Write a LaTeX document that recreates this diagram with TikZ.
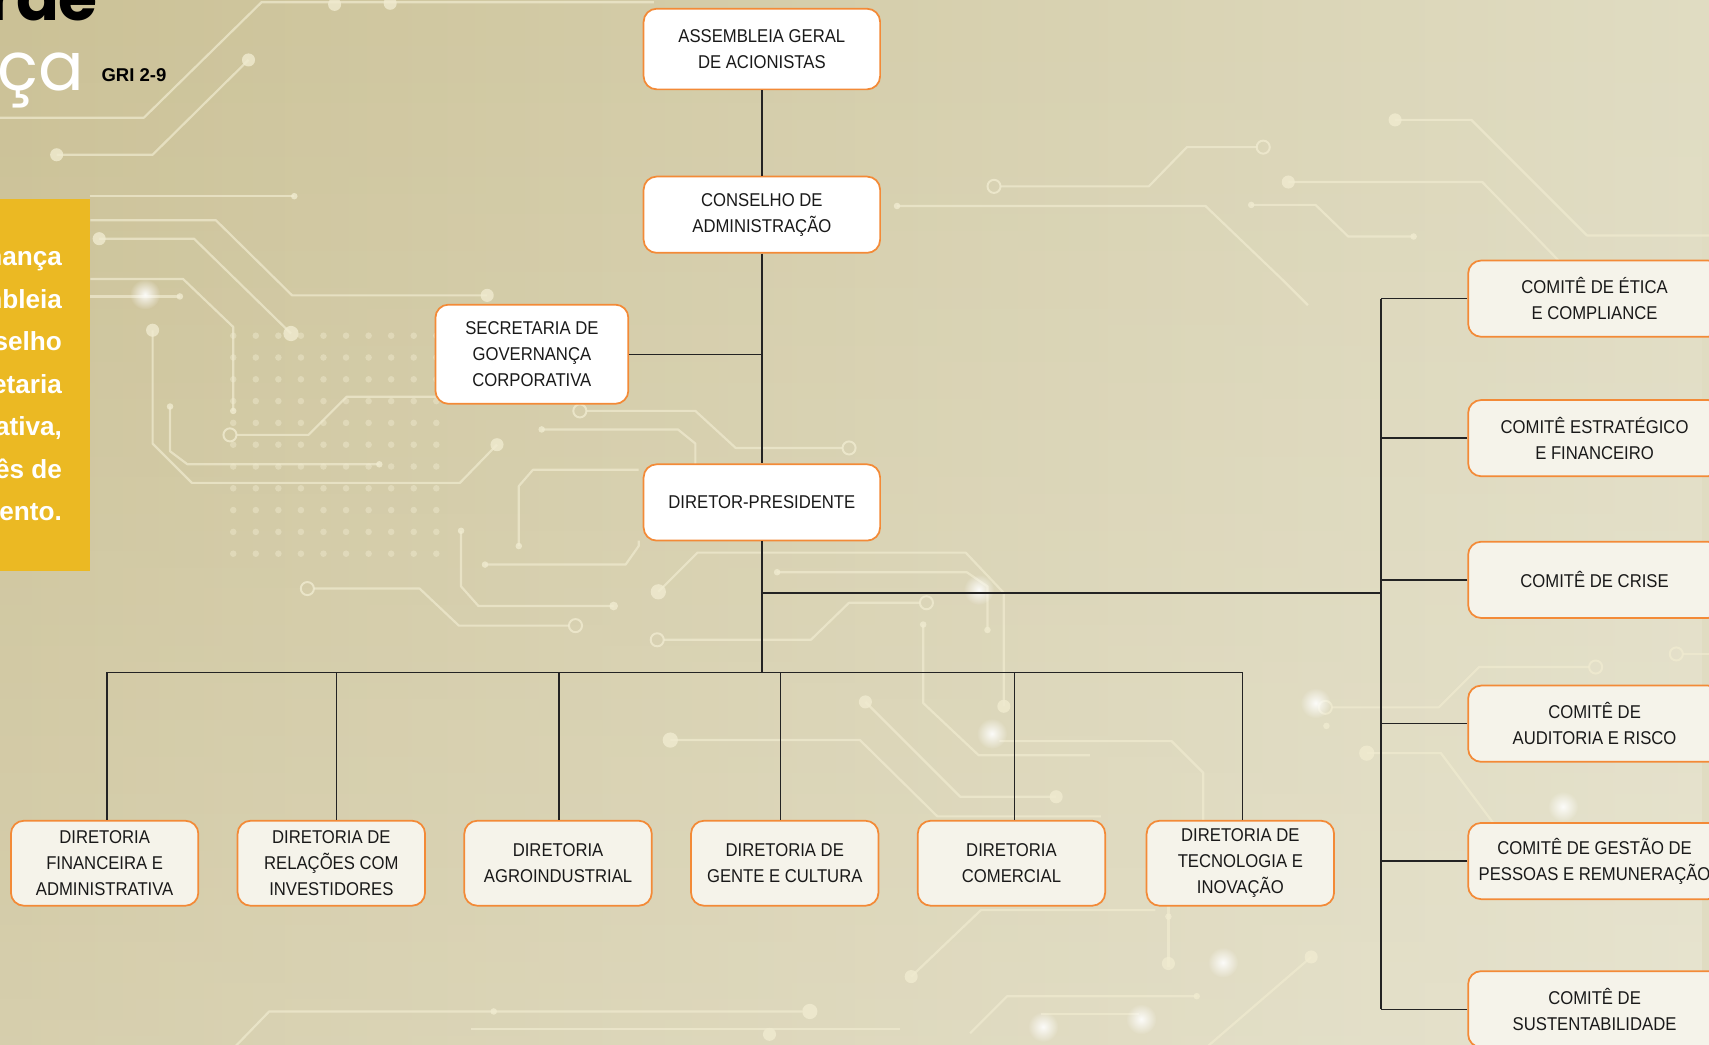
\documentclass[tikz,border=0pt]{standalone}
\usepackage{fontspec}
\setmainfont{Liberation Sans}
\newfontfamily\popp{Poppins}
\newfontfamily\boxfont[FakeStretch=0.9]{Liberation Sans}
\usetikzlibrary{fadings}
\tikzfading[name=glowfade, inner color=transparent!0, outer color=transparent!100]
\definecolor{bgA}{RGB}{203,193,150}
\definecolor{bgB}{RGB}{224,220,194}
\definecolor{trace}{RGB}{240,235,208}
\definecolor{orangeB}{RGB}{243,138,55}
\definecolor{cream}{RGB}{245,243,234}
\definecolor{gold}{RGB}{235,185,35}
\definecolor{linec}{RGB}{35,35,35}
\tikzset{
  box/.style={draw=orangeB, line width=1.6pt, rounded corners=12pt, fill=white,
    align=center, text=black!90, font=\boxfont\fontsize{17}{24}\selectfont, inner sep=0pt},
  lowbox/.style={box, fill=cream},
  conn/.style={draw=linec, line width=1.3pt},
  trc/.style={draw=trace, line width=2pt, opacity=0.7, line join=round},
  tdot/.style={fill=trace, opacity=0.8},
  tring/.style={draw=trace, line width=1.8pt, opacity=0.8},
  glow/.style={fill=white, path fading=glowfade, opacity=0.9},
  sidetxt/.style={anchor=base east, text=white, inner sep=0pt,
    font=\fontsize{24}{24}\selectfont\bfseries},
}
\begin{document}
\begin{tikzpicture}[x=1pt,y=-1pt]
\useasboundingbox (0,0) rectangle (1568,958);
\clip (0,0) rectangle (1568,958);
% background
\shade[left color=bgA, right color=bgB] (0,0) rectangle (1568,958);
\fill[white, opacity=0.22, path fading=north] (0,0) rectangle (1568,958);
% circuit traces
\draw[trc] (-5,108) -- (132,108) -- (240,2) -- (600,2);
\fill[tdot] (307,4) circle[radius=6pt] (358,3) circle[radius=6pt];
\draw[trc] (52,142) -- (140,142) -- (228,55);
\fill[tdot] (52,142) circle[radius=6pt] (228,55) circle[radius=6pt];
\draw[trc] (83,180) -- (270,180);
\fill[tdot] (270,180) circle[radius=3pt];
\draw[trc] (83,202) -- (198,202) -- (268,271) -- (447,271);
\fill[tdot] (447,271) circle[radius=6pt];
\draw[trc] (91,219) -- (178,219) -- (267,306);
\fill[tdot] (91,219) circle[radius=6pt] (267,306) circle[radius=7pt];
\draw[trc] (83,256) -- (168,256) -- (214,300) -- (214,377);
\fill[tdot] (214,377) circle[radius=3pt];
\draw[trc] (83,272) -- (165,272);
\fill[tdot] (165,272) circle[radius=3pt];
\draw[trc] (140,303) -- (140,407) -- (176,443) -- (422,443) -- (456,408);
\fill[tdot] (140,303) circle[radius=6pt] (456,408) circle[radius=6pt];
\draw[trc] (156,373) -- (156,414) -- (172,426) -- (348,426);
\fill[tdot] (156,373) circle[radius=3pt] (348,426) circle[radius=3pt];
\draw[tring] (211,399) circle[radius=6pt];
\draw[trc] (217,399) -- (283,399) -- (318,364) -- (400,364);
\draw[tring] (532,377) circle[radius=6pt];
\draw[trc] (538,377) -- (638,377) -- (675,411) -- (773,411);
\draw[tring] (779,411) circle[radius=6pt];
\fill[tdot] (497,394) circle[radius=3pt];
\draw[trc] (497,394) -- (622,394) -- (638,407) -- (638,426);
\draw[trc] (586,431) -- (489,431) -- (476,446) -- (476,501);
\fill[tdot] (476,501) circle[radius=3pt];
\draw[trc] (586,496) -- (586,501) -- (574,518) -- (445,518);
\fill[tdot] (445,518) circle[radius=3pt];
\draw[trc] (423,487) -- (423,538) -- (439,556) -- (563,556);
\fill[tdot] (423,487) circle[radius=3pt] (563,556) circle[radius=4pt];
\draw[tring] (282,540) circle[radius=6pt];
\draw[trc] (288,540) -- (385,540) -- (421,574) -- (522,574);
\draw[tring] (528,574) circle[radius=6pt];
\draw[trc] (604,543) -- (640,507) -- (886,507) -- (921,544) -- (921,648);
\fill[tdot] (604,543) circle[radius=7pt] (921,648) circle[radius=6pt];
\draw[trc] (713,525) -- (887,525) -- (906,538) -- (906,578);
\fill[tdot] (713,525) circle[radius=3pt] (906,578) circle[radius=3pt];
\draw[tring] (603,587) circle[radius=6pt];
\draw[trc] (609,587) -- (744,587) -- (779,553) -- (844,553);
\draw[tring] (850,553) circle[radius=6pt];
\draw[trc] (847,573) -- (847,645) -- (898,693) -- (1000,693);
\fill[tdot] (847,573) circle[radius=3pt];
\draw[trc] (615,679) -- (789,679) -- (860,749) -- (1010,749);
\fill[tdot] (615,679) circle[radius=7pt];
\draw[trc] (794,644) -- (881,731) -- (969,731);
\fill[tdot] (794,644) circle[radius=6pt] (969,731) circle[radius=6pt];
\draw[trc] (1280,110) -- (1350,110) -- (1456,216) -- (1570,216);
\fill[tdot] (1280,110) circle[radius=6pt];
\draw[tring] (1159,135) circle[radius=6pt];
\draw[trc] (1153,135) -- (1089,135) -- (1054,171) -- (918,171);
\draw[tring] (912,171) circle[radius=6pt];
\draw[trc] (1182,167) -- (1360,167) -- (1428,237) -- (1440,250);
\fill[tdot] (1182,167) circle[radius=6pt];
\draw[trc] (823,189) -- (1106,189) -- (1177,257) -- (1200,280);
\fill[tdot] (823,189) circle[radius=3pt];
\draw[trc] (1148,188) -- (1207,188) -- (1237,217) -- (1297,217);
\fill[tdot] (1148,188) circle[radius=3pt] (1297,217) circle[radius=3pt];
\draw[tring] (1464,612) circle[radius=6pt];
\draw[trc] (1458,612) -- (1357,612) -- (1320,649) -- (1222,649);
\draw[tring] (1216,649) circle[radius=6pt];
\draw[tring] (1538,600) circle[radius=6pt];
\draw[trc] (1544,600) -- (1570,600);
\fill[tdot] (1217,666) circle[radius=3pt];
\draw[trc] (1254,691) -- (1322,691) -- (1382,771);
\fill[tdot] (1254,691) circle[radius=7pt];
\draw[trc] (917,680) -- (1075,680) -- (1104,709) -- (1104,770);
\draw[trc] (836,896) -- (900,835) -- (1060,835);
\fill[tdot] (836,896) circle[radius=6pt];
\draw[trc] (1072,826) -- (1072,887);
\fill[tdot] (1072,841) circle[radius=3pt] (1072,884) circle[radius=6pt];
\draw[trc] (1203,878) -- (1108,960);
\fill[tdot] (1203,878) circle[radius=6pt];
\draw[trc] (1098,914) -- (924,914) -- (890,948);
\fill[tdot] (1098,914) circle[radius=3pt];
\draw[trc] (955,930) -- (1045,930);
\draw[trc] (216,960) -- (247,928) -- (736,928);
\fill[tdot] (453,928) circle[radius=3pt] (743,928) circle[radius=7pt];
\draw[trc] (432,944) -- (826,944);
\fill[tdot] (706,949) circle[radius=6pt];
% dot matrix
\foreach \i in {0,...,9}{\foreach \j in {0,...,10}{
  \fill[trace, opacity=0.45] (214+20.7*\i, 308+20*\j) circle[radius=3pt];}}
% glows
\foreach \p in {(133,270),(898,541),(910,673),(1207,645),(1434,740),(1122,883),(1047,935),(957,942)}
  \fill[glow] \p circle[radius=14pt];
% title area
\fill[gold] (0,183) rectangle (83,524);
\node[sidetxt] (s1) at (57,244) {nança};
\node[sidetxt] (s2) at (57,283) {mbleia};
\node[sidetxt] (s3) at (57,322) {selho};
\node[sidetxt] (s4) at (57,361) {etaria};
\node[sidetxt] (s5) at (57,400) {ativa,};
\node[sidetxt] (s6) at (57,439) {ês de};
\node[sidetxt] (s7) at (57,478) {ento.};
\node[anchor=base east, inner sep=0pt, text=black,
  font=\popp\fontsize{58}{58}\selectfont\bfseries] (t1) at (90,19) {r\hspace{-12pt} de};
\node[anchor=base east, inner sep=0pt, text=white,
  font=\popp\fontsize{62}{62}\selectfont] (t2) at (77,83) {ça};
\node[anchor=base west, inner sep=0pt, text=black,
  font=\fontsize{17}{17}\selectfont\bfseries] (gri) at (93,75) {GRI 2-9};
% chart boxes
\node[box, minimum width=217pt, minimum height=74pt] (asm) at (699,45) {ASSEMBLEIA GERAL\\DE ACIONISTAS};
\node[box, minimum width=217pt, minimum height=70pt] (cons) at (699,197) {CONSELHO DE\\ADMINISTRAÇÃO};
\node[box, minimum width=177pt, minimum height=91pt] (sec) at (488,325) {SECRETARIA DE\\GOVERNANÇA\\CORPORATIVA};
\node[box, minimum width=217pt, minimum height=70pt] (dp) at (699,461) {DIRETOR-PRESIDENTE};
\node[lowbox, minimum width=172pt, minimum height=78pt] (b1) at (96,792) {DIRETORIA\\FINANCEIRA E\\ADMINISTRATIVA};
\node[lowbox, minimum width=172pt, minimum height=78pt] (b2) at (304,792) {DIRETORIA DE\\RELAÇÕES COM\\INVESTIDORES};
\node[lowbox, minimum width=172pt, minimum height=78pt] (b3) at (512,792) {DIRETORIA\\AGROINDUSTRIAL};
\node[lowbox, minimum width=172pt, minimum height=78pt] (b4) at (720,792) {DIRETORIA DE\\GENTE E CULTURA};
\node[lowbox, minimum width=172pt, minimum height=78pt] (b5) at (928,792) {DIRETORIA\\COMERCIAL};
\node[lowbox, minimum width=172pt, minimum height=78pt] (b6) at (1138,792) {DIRETORIA DE\\TECNOLOGIA E\\INOVAÇÃO};
\node[lowbox, minimum width=232pt, minimum height=70pt] (c1) at (1463,274) {COMITÊ DE ÉTICA\\E COMPLIANCE};
\node[lowbox, minimum width=232pt, minimum height=70pt] (c2) at (1463,402) {COMITÊ ESTRATÉGICO\\E FINANCEIRO};
\node[lowbox, minimum width=232pt, minimum height=70pt] (c3) at (1463,532) {COMITÊ DE CRISE};
\node[lowbox, minimum width=232pt, minimum height=70pt] (c4) at (1463,664) {COMITÊ DE\\AUDITORIA E RISCO};
\node[lowbox, minimum width=232pt, minimum height=70pt] (c5) at (1463,790) {COMITÊ DE GESTÃO DE\\PESSOAS E REMUNERAÇÃO};
\node[lowbox, minimum width=232pt, minimum height=70pt] (c6) at (1463,926) {COMITÊ DE\\SUSTENTABILIDADE};
% connectors
\coordinate (busL) at (98,617);
\coordinate (busR) at (1140,617);
\coordinate (cx) at (1267,544);
\coordinate (d1) at (98,617);
\coordinate (d2) at (309,617);
\coordinate (d3) at (513,617);
\coordinate (d4) at (716,617);
\coordinate (d5) at (931,617);
\coordinate (d6) at (1140,617);
\draw[conn] (asm.south) -- (cons.north);
\draw[conn] (cons.south) -- (dp.north);
\draw[conn] (sec.east) -- (sec.east -| cons.south);
\draw[conn] (dp.south) -- (dp.south |- busL);
\draw[conn] (busL) -- (busR);
\foreach \k in {1,...,6}{\draw[conn] (d\k) -- (d\k |- b\k.north);}
\draw[conn] (dp.south |- cx) -- (cx);
\draw[conn] (cx |- c1.west) -- (cx |- c6.west);
\foreach \k in {1,...,6}{\draw[conn] (c\k.west) -- (cx |- c\k.west);}
\end{tikzpicture}
\end{document}
